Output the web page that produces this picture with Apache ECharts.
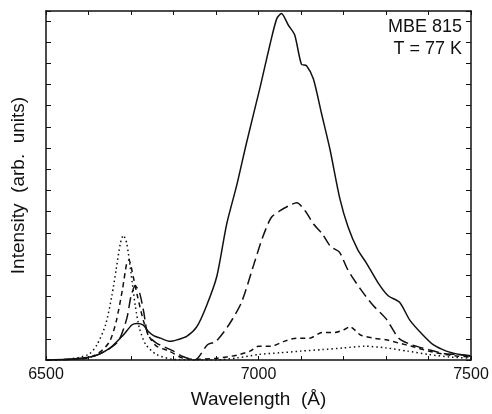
<!DOCTYPE html>
<html><head><meta charset="utf-8">
<script src="https://cdn.jsdelivr.net/npm/echarts@6/dist/echarts.min.js"></script>
<style>html,body{margin:0;padding:0;background:#fff}#c{width:492px;height:414px}</style>
</head><body><div id="c"></div>
<script>
const xTickLabels = [6500, 7000, 7500];
const xMin = 6500, xMax = 7500, yMax = 16.46;

const solidX = [6500,6549,6612,6651,6682,6702,6714,6729,6741,6753,6769,6792,6808,6831,6855,6878,6902,6925,6949,6972,7004,7027,7043,7054,7070,7085,7101,7113,7129,7148,7168,7191,7211,7234,7254,7281,7305,7332,7356,7383,7411,7442,7473,7500];
const solidY = [0,0.03,0.18,0.57,1.18,1.65,1.72,1.65,1.34,1.15,1.03,0.88,0.95,1.11,1.57,2.57,3.95,6.4,8.26,10.26,12.88,14.88,16.1,16.34,15.8,15.34,13.95,13.88,13.26,11.65,9.95,7.65,6.26,5.18,4.57,3.65,3.03,2.72,1.88,1.26,0.72,0.42,0.26,0.18];

const longDashX = [6500,6550,6600,6640,6670,6690,6700,6710,6720,6730,6740,6760,6800,6820,6850,6880,6900,6930,6960,6990,7010,7030,7050,7070,7090,7110,7130,7150,7170,7190,7210,7240,7270,7300,7330,7360,7400,7440,7470,7500];
const longDashY = [0,0.02,0.1,0.42,0.88,1.95,3.0,3.5,3.18,2.26,1.18,0.8,0.42,0.18,0,0.72,0.88,1.65,2.72,4.57,5.8,6.72,7.03,7.26,7.42,7.03,6.4,5.95,5.34,5.1,4.26,3.34,2.57,1.95,1.03,0.72,0.49,0.29,0.26,0.2];

const shortDashX = [6500,6550,6600,6630,6650,6665,6680,6690,6695,6705,6715,6730,6745,6760,6790,6820,6850,6900,6950,6980,7000,7030,7060,7090,7120,7150,7180,7200,7215,7240,7270,7300,7330,7360,7400,7440,7470,7500];
const shortDashY = [0,0.02,0.1,0.42,0.88,1.8,3.34,4.57,4.72,3.95,3.03,1.8,1.03,0.65,0.42,0.1,0.03,0.08,0.23,0.42,0.65,0.65,0.88,1.03,1.03,1.3,1.3,1.42,1.57,1.18,1.03,0.95,0.8,0.65,0.42,0.26,0.18,0.14];

const dottedX = [6500,6550,6600,6620,6640,6655,6665,6675,6682,6690,6700,6710,6720,6735,6760,6800,6900,6950,7000,7050,7100,7150,7200,7250,7300,7350,7400,7450,7500];
const dottedY = [0,0.03,0.26,0.72,1.65,3.03,4.26,5.5,5.88,5.5,4.1,2.57,1.49,0.72,0.26,0.03,0,0.1,0.26,0.34,0.42,0.49,0.57,0.65,0.57,0.42,0.26,0.14,0.08];

const labelLines = ["MBE 815", "T = 77 K"];

const pairs = (xs, ys) => xs.map((x, i) => [x, ys[i]]);
const FONT = "Liberation Sans, Arial, sans-serif";

function mk(name, xs, ys, type) {
  return {
    name, type: 'line', data: pairs(xs, ys), showSymbol: false, smooth: 0.25,
    lineStyle: { color: '#111', width: 1.5, type: type }, z: 3
  };
}

const chart = echarts.init(document.getElementById('c'), null, { renderer: 'canvas' });
const axisLine = { show: true, onZero: false, lineStyle: { color: '#111', width: 1.5 } };
chart.setOption({
  animation: false,
  grid: { left: 46, right: 21, top: 11, bottom: 48 },
  xAxis: [
    { type: 'value', min: xMin, max: xMax, interval: 100, position: 'bottom',
      axisLine, axisTick: { show: true, inside: true, length: 4, lineStyle: { color: '#111', width: 1 } },
      splitLine: { show: false },
      axisLabel: { color: '#111', fontFamily: FONT, fontSize: 16, margin: 7,
        formatter: v => xTickLabels.includes(v) ? String(v) : '' },
      name: 'Wavelength  (Å)', nameLocation: 'middle', nameGap: 30,
      nameTextStyle: { color: '#111', fontFamily: FONT, fontSize: 19 } },
    { type: 'value', min: xMin, max: xMax, interval: 100, position: 'top',
      axisLine, axisTick: { show: true, inside: true, length: 4, lineStyle: { color: '#111', width: 1 } },
      axisLabel: { show: false }, splitLine: { show: false } }
  ],
  yAxis: [
    { type: 'value', min: 0, max: yMax, interval: 1, position: 'left',
      axisLine, axisTick: { show: true, inside: true, length: 5, lineStyle: { color: '#111', width: 1 } },
      axisLabel: { show: false }, splitLine: { show: false },
      name: 'Intensity  (arb.  units)', nameLocation: 'middle', nameGap: 18, nameRotate: 90,
      nameTextStyle: { color: '#111', fontFamily: FONT, fontSize: 19 } },
    { type: 'value', min: 0, max: yMax, interval: 1, position: 'right',
      axisLine, axisTick: { show: true, inside: true, length: 5, lineStyle: { color: '#111', width: 1 } },
      axisLabel: { show: false }, splitLine: { show: false } }
  ],
  graphic: labelLines.map((t, i) => ({
    type: 'text', right: 30, top: 18 + i * 22,
    style: { text: t, fill: '#111', font: '18px ' + FONT, textAlign: 'right' }
  })),
  series: [
    mk('solid', solidX, solidY, 'solid'),
    mk('longdash', longDashX, longDashY, [11, 5]),
    mk('shortdash', shortDashX, shortDashY, [5, 4]),
    mk('dotted', dottedX, dottedY, [1.5, 3])
  ]
});
</script></body></html>
